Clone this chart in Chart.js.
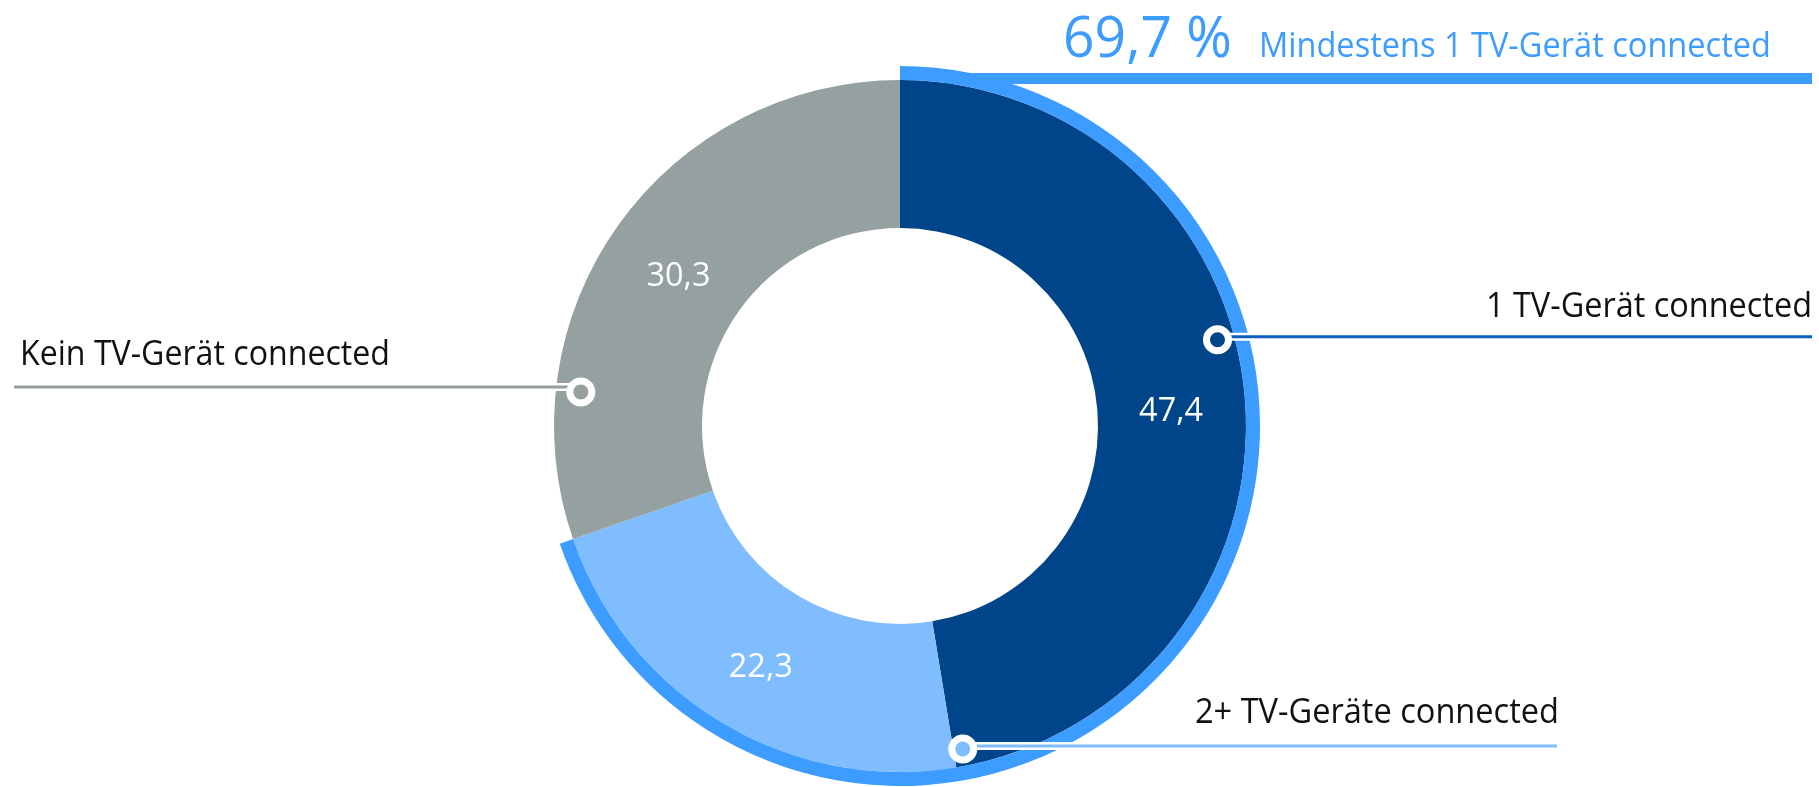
<!DOCTYPE html>
<html>
<head>
<meta charset="utf-8">
<script src="https://cdn.jsdelivr.net/npm/chart.js"></script>
<style>
  body { margin: 0; background: #fff; }
  canvas { display: block; }
</style>
</head>
<body>
<canvas id="tvChart" width="1819" height="787"></canvas>
<script>
// data
var categories = ['1 TV-Gerät connected', '2+ TV-Geräte connected', 'Kein TV-Gerät connected'];
var shares = [47.4, 22.3, 30.3];
var highlightLabel = 'Mindestens 1 TV-Gerät connected';
var highlightShare = [69.7, 30.3];   // 1 TV + 2+ TV, rest

var segColors = ['#00448a', '#80bdff', '#95a0a0'];
var lineColors = ['#0a5fc2', '#80bdff', '#95a0a0'];
var ringColor = '#3d9cff';
var fontName = '"Open Sans", sans-serif';

function fmt(v) {
  return v.toFixed(1).replace('.', ',');
}

// callout layout: angle clockwise from top, distance from centre
var callouts = [
  { angle: 74.8, dist: 329, dy: -3, lineTo: 1812, textX: 1812, textY: 317, align: 'right', maxW: 326 },
  { angle: 169, dist: 329, dy: -3, lineTo: 1557, textX: 1195, textY: 723, align: 'left', maxW: 364 },
  { angle: 276.1, dist: 321, dy: -5, lineTo: 14, textX: 20, textY: 365, align: 'left', maxW: 370 }
];

var annotations = {
  id: 'annotations',
  afterDatasetsDraw: function(chart) {
    var c = chart.ctx;
    var meta = chart.getDatasetMeta(1);
    var cx = meta.data[0].x, cy = meta.data[0].y;

    // values inside the segments
    c.save();
    c.fillStyle = '#fff';
    c.font = '33px ' + fontName;
    c.textAlign = 'center';
    c.textBaseline = 'middle';
    meta.data.forEach(function(arc, i) {
      var p = arc.tooltipPosition();
      c.fillText(fmt(shares[i]), p.x, p.y + 8, 64);
    });
    c.restore();

    // highlight bar + headline
    c.save();
    c.fillStyle = ringColor;
    c.fillRect(950, 73, 862, 11);
    c.textBaseline = 'alphabetic';
    c.textAlign = 'left';
    c.font = '57px ' + fontName;
    c.fillText(fmt(highlightShare[0]) + ' %', 1063, 57, 169);
    c.font = '34px ' + fontName;
    c.fillText(highlightLabel, 1259, 57, 512);
    c.restore();

    // callout lines, dots and labels
    callouts.forEach(function(co, i) {
      var a = co.angle * Math.PI / 180;
      var x = cx + co.dist * Math.sin(a);
      var y = cy - co.dist * Math.cos(a);
      var ly = y + co.dy;
      c.save();
      c.lineCap = 'butt';
      c.strokeStyle = '#fff';
      c.lineWidth = 8;
      c.beginPath(); c.moveTo(x, ly); c.lineTo(co.lineTo, ly); c.stroke();
      c.strokeStyle = lineColors[i];
      c.lineWidth = 3;
      c.beginPath(); c.moveTo(x, ly); c.lineTo(co.lineTo, ly); c.stroke();

      c.beginPath();
      c.arc(x, y, 11, 0, Math.PI * 2);
      c.fillStyle = segColors[i];
      c.fill();
      c.lineWidth = 7;
      c.strokeStyle = '#fff';
      c.stroke();

      c.fillStyle = '#111';
      c.font = '34px ' + fontName;
      c.textAlign = co.align;
      c.textBaseline = 'alphabetic';
      c.fillText(categories[i], co.textX, co.textY, co.maxW);
      c.restore();
    });
  }
};

var ctx = document.getElementById('tvChart');
var tvChart = new Chart(ctx, {
  type: 'doughnut',
  data: {
    labels: categories,
    datasets: [{
      label: highlightLabel,
      data: highlightShare,
      backgroundColor: [ringColor, 'rgba(0,0,0,0)'],
      borderWidth: 0,
      weight: 14
    }, {
      label: 'Anteil',
      data: shares,
      backgroundColor: segColors,
      borderWidth: 0,
      weight: 148
    }]
  },
  options: {
    responsive: false,
    animation: false,
    cutout: '55%',
    layout: {
      padding: { left: 540, right: 559, top: 66, bottom: 1 }
    },
    plugins: {
      legend: { display: false },
      tooltip: { enabled: false }
    }
  },
  plugins: [annotations]
});
</script>
</body>
</html>
